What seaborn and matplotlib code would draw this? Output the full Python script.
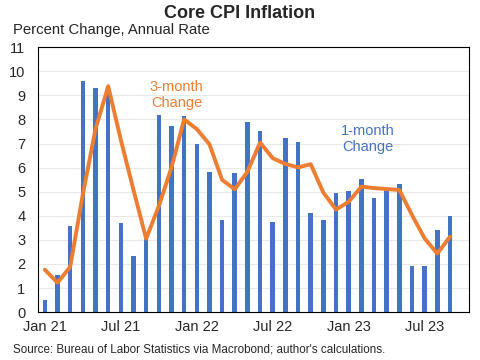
import numpy as np
import pandas as pd
import matplotlib
matplotlib.use("Agg")
import matplotlib.pyplot as plt
import seaborn as sns

months = pd.date_range("2021-01-01", "2023-09-01", freq="MS")
one_month = [0.51, 1.53, 3.58, 9.61, 9.32, 9.40, 3.72, 2.35, 3.05, 8.17, 7.71, 8.13,
             6.96, 5.83, 3.81, 5.79, 7.88, 7.50, 3.76, 7.21, 7.08, 4.10, 3.81, 4.93,
             5.04, 5.54, 4.72, 5.07, 5.33, 1.93, 1.93, 3.39, 3.97]
three_month = [1.76, 1.22, 1.88, 4.90, 7.60, 9.38, 7.15, 5.07, 3.05, 4.40, 6.00, 8.00,
               7.60, 6.97, 5.49, 5.10, 5.83, 7.04, 6.39, 6.15, 6.01, 6.14, 4.96, 4.26,
               4.58, 5.21, 5.15, 5.11, 5.07, 4.03, 3.06, 2.43, 3.13]
tick_labels = ["Jan 21", "Jul 21", "Jan 22", "Jul 22", "Jan 23", "Jul 23"]

df = pd.DataFrame({"month": months, "one": one_month, "three": three_month})
df["pos"] = np.arange(len(df))

sns.set_style("white")
plt.rcParams["font.family"] = ["Liberation Sans", "DejaVu Sans"]

blue = "#4472C4"
orange = "#ED7D31"

fig = plt.figure(figsize=(4.8, 3.6), dpi=100)
ax = fig.add_axes([0.079, 0.133, 0.898, 0.736])

sns.barplot(x="pos", y="one", data=df, color=blue, width=0.36, linewidth=0,
            saturation=1, ax=ax, zorder=2)
sns.lineplot(x="pos", y="three", data=df, color=orange, linewidth=2.8, ax=ax, zorder=3)

ax.set_xlim(-0.55, 33.5)
ax.set_ylim(0, 11)
ax.set_yticks(range(0, 12))
ax.yaxis.grid(True, color="#E8E8E8", linewidth=0.8, zorder=0)
ax.set_axisbelow(True)
ax.tick_params(axis="y", length=0, labelsize=10.5, pad=9)

# labels on the bars, small tick marks between months
ax.set_xticks(range(0, len(df), 6))
ax.set_xticklabels(tick_labels)
ax.tick_params(axis="x", length=0, labelsize=10.5, pad=6)
ax.set_xticks(np.arange(5.5, len(df), 6), minor=True)
ax.tick_params(axis="x", which="minor", direction="in", length=3, color="#555555")

for s in ax.spines.values():
    s.set_color("black")
    s.set_linewidth(0.8)

ax.set_xlabel("")
ax.set_ylabel("")

ax.text(10.4, 9.0, "3-month\nChange", color=orange, fontsize=10.5, ha="center", va="center",
        linespacing=1.2)
ax.text(25.5, 7.2, "1-month\nChange", color=blue, fontsize=10.5, ha="center", va="center",
        linespacing=1.2)

fig.text(0.5, 0.963, "Core CPI Inflation", fontsize=13, fontweight="bold", ha="center", va="center")
fig.text(0.027, 0.916, "Percent Change, Annual Rate", fontsize=10.7, ha="left", va="center")
fig.text(0.027, 0.03, "Source: Bureau of Labor Statistics via Macrobond; author's calculations.",
         fontsize=8.4, ha="left", va="center")

fig.savefig("out.png", dpi=100)
